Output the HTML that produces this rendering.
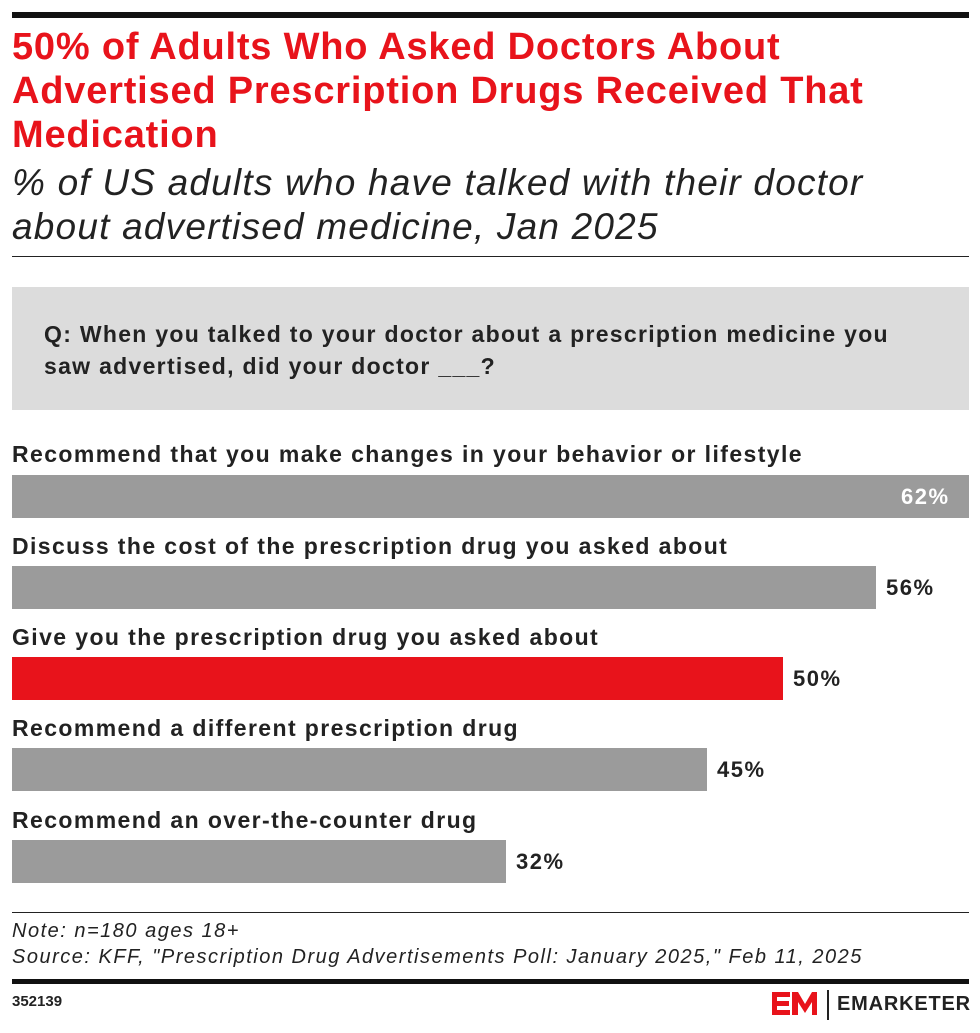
<!DOCTYPE html>
<html><head><meta charset="utf-8"><style>
body{margin:0;background:#fff;width:980px;height:1033px;position:relative;overflow:hidden;font-family:"Liberation Sans",sans-serif}
.a{position:absolute;white-space:nowrap}
.t{left:12px;top:25px;color:#e8131b;font-weight:bold;font-size:38px;line-height:44px;letter-spacing:0.8px}
.s{left:12px;top:161px;color:#222;font-style:italic;font-size:37px;line-height:44px;letter-spacing:1.2px}
.lab{left:12px;font-weight:bold;font-size:23px;color:#222;letter-spacing:1.4px}
.bar{left:12px;height:43px;background:#9b9b9b}
.v{font-weight:bold;font-size:22px;color:#222;letter-spacing:1.5px}
</style></head><body>
<div class="a" style="left:12px;top:12px;width:957px;height:6px;background:#111"></div>
<div class="a t">50% of Adults Who Asked Doctors About<br>Advertised Prescription Drugs Received That<br>Medication</div>
<div class="a s">% of US adults who have talked with their doctor<br>about advertised medicine, Jan 2025</div>
<div class="a" style="left:12px;top:256px;width:957px;height:1px;background:#222"></div>
<div class="a" style="left:12px;top:287px;width:957px;height:123px;background:#dcdcdc"></div>
<div class="a" style="left:44px;top:318px;font-weight:bold;font-size:23px;line-height:32px;color:#222;letter-spacing:1.3px">Q: When you talked to your doctor about a prescription medicine you<br>saw advertised, did your doctor ___?</div>

<div class="a lab" style="top:441px">Recommend that you make changes in your behavior or lifestyle</div>
<div class="a bar" style="top:475px;width:957px"></div>
<div class="a v" style="left:901px;top:484px;color:#fff">62%</div>

<div class="a lab" style="top:533px">Discuss the cost of the prescription drug you asked about</div>
<div class="a bar" style="top:566px;width:864px"></div>
<div class="a v" style="left:886px;top:575px">56%</div>

<div class="a lab" style="top:624px">Give you the prescription drug you asked about</div>
<div class="a bar" style="top:657px;width:771px;background:#e8131b"></div>
<div class="a v" style="left:793px;top:666px">50%</div>

<div class="a lab" style="top:715px">Recommend a different prescription drug</div>
<div class="a bar" style="top:748px;width:695px"></div>
<div class="a v" style="left:717px;top:757px">45%</div>

<div class="a lab" style="top:807px">Recommend an over-the-counter drug</div>
<div class="a bar" style="top:840px;width:494px"></div>
<div class="a v" style="left:516px;top:849px">32%</div>

<div class="a" style="left:12px;top:912px;width:957px;height:1px;background:#222"></div>
<div class="a" style="left:12px;top:918px;font-style:italic;font-size:20px;line-height:26px;color:#222;letter-spacing:1.5px">Note: n=180 ages 18+<br>Source: KFF, "Prescription Drug Advertisements Poll: January 2025," Feb 11, 2025</div>
<div class="a" style="left:12px;top:979px;width:957px;height:5px;background:#111"></div>
<div class="a" style="left:12px;top:993px;font-weight:bold;font-size:15px;color:#222">352139</div>
<svg class="a" style="left:772px;top:990px" width="50" height="30" viewBox="0 0 50 30">
<path d="M0 2h18v5H5v4h12v5H5v4h13v5H0z" fill="#e8131b"/>
<path d="M20 25V2h6l7 12 7-12h5v23h-5V12l-7 11-7-11v13z" fill="#e8131b"/>
</svg>
<div class="a" style="left:827px;top:990px;width:2px;height:30px;background:#222"></div>
<div class="a" style="left:837px;top:993px;font-weight:bold;font-size:20px;letter-spacing:0.8px;color:#222">EMARKETER</div>
</body></html>
